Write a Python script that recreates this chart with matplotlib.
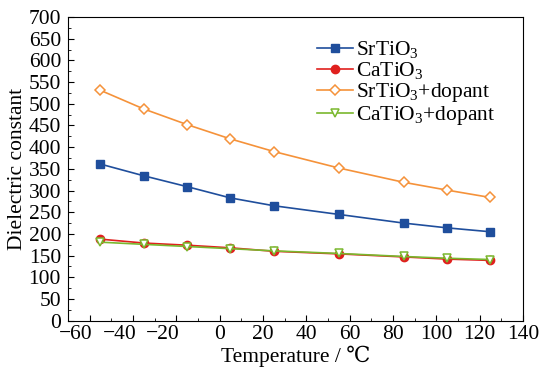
import matplotlib
matplotlib.use('Agg')
import matplotlib.pyplot as plt
import matplotlib.transforms as mtransforms

plt.rcParams['font.family'] = ['Liberation Serif', 'DejaVu Serif']
plt.rcParams['mathtext.fontset'] = 'custom'
plt.rcParams['mathtext.rm'] = 'Liberation Serif'
plt.rcParams['mathtext.it'] = 'Liberation Serif:italic'

temperature = [-55, -35, -15, 5, 25, 55, 85, 105, 125]
srtio3 = [361, 334, 309, 283, 265, 245, 225, 214, 205]
catio3 = [188, 179, 174, 168, 160, 154, 147, 142, 139]
srtio3_dopant = [531, 488, 452, 419, 390, 352, 319, 301, 284]
catio3_dopant = [181, 176, 171, 166, 161, 155, 148, 144, 141]

labels = ['SrTiO$_3$', 'CaTiO$_3$', 'SrTiO$_3$+dopant', 'CaTiO$_3$+dopant']
xtick_vals = list(range(-60, 141, 20))
xtick_labels = [str(v).replace('-', '\u2212') for v in xtick_vals]

fs = 15.5

fig = plt.figure(figsize=(5.43, 3.74), dpi=100)
ax = fig.add_axes([0.1252, 0.1425, 0.8378, 0.812])

ax.plot(temperature, srtio3, color='#1f4e9c', marker='s', markersize=6,
        lw=1.2, label=labels[0])
ax.plot(temperature, catio3, color='#e0201e', marker='o', markersize=6,
        lw=1.2, label=labels[1])
ax.plot(temperature, srtio3_dopant, color='#f5923a', marker='D', markersize=5.5,
        mfc='white', mew=1.1, lw=1.2, label=labels[2])
ax.plot(temperature, catio3_dopant, color='#7ab82e', marker='v', markersize=6,
        mfc='white', mew=1.1, lw=1.2, label=labels[3])

ax.set_xlim(-70, 140)
ax.set_ylim(0, 700)
ax.set_xticks(xtick_vals)
ax.set_xticks(range(-70, 141, 10), minor=True)
ax.set_yticks(range(0, 701, 50))
ax.set_yticks(range(0, 701, 25), minor=True)
ax.tick_params(which='both', direction='in', top=False, right=False,
               labelsize=fs)
ax.tick_params(axis='y', pad=5)
ax.tick_params(axis='x', pad=3)
ax.tick_params(which='major', length=4)
ax.tick_params(which='minor', length=2)
ax.set_xticklabels(xtick_labels)

# negative labels sit a bit left of their ticks in the original
shift = mtransforms.ScaledTranslation(-13.5 / 100, 0, fig.dpi_scale_trans)
for lab in ax.get_xticklabels():
    if lab.get_text().startswith('\u2212'):
        lab.set_transform(lab.get_transform() + shift)

ax.set_xlabel('Temperature / \u2103', fontsize=fs, labelpad=1)
ax.set_ylabel('Dielectric constant', fontsize=fs, labelpad=1)

ax.legend(loc='upper left', bbox_to_anchor=(0.523, 0.962), frameon=False,
          fontsize=fs, handlelength=1.7, handletextpad=0.15,
          labelspacing=0.0, borderpad=0)

fig.savefig('out.png', dpi=100)
